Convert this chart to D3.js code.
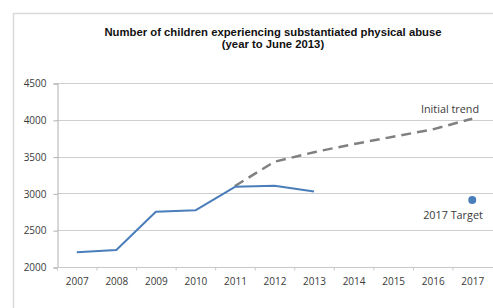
<!DOCTYPE html>
<html>
<head>
<meta charset="utf-8">
<script src="https://cdn.jsdelivr.net/npm/d3@7"></script>
<style>
    body { margin: 0; background: #fff; }
    svg { display: block; }
    .tick text { font-family: "Open Sans", sans-serif; font-size: 10px; fill: #3a3a3a; }
</style>
</head>
<body>
<div id="chart"></div>
<script>
const years = ["2007", "2008", "2009", "2010", "2011", "2012", "2013", "2014", "2015", "2016", "2017"];
const actualYears = ["2007", "2008", "2009", "2010", "2011", "2012", "2013"];
const actualValues = [2200, 2230, 2750, 2770, 3090, 3105, 3025];
const trendYears = ["2011", "2012", "2013", "2014", "2015", "2016", "2017"];
const trendValues = [3100, 3430, 3560, 3670, 3770, 3870, 4015];
const targetYear = "2017";
const targetValue = 2910;
const yTicks = [2000, 2500, 3000, 3500, 4000, 4500];

const width = 493, height = 308;
const margin = {top: 83, right: 1, bottom: 41, left: 57};

const svg = d3.select("#chart").append("svg")
    .attr("width", width)
    .attr("height", height);

// outer chart frame (cut off at right/bottom like the source)
svg.append("rect")
    .attr("x", 13.5).attr("y", 13.5)
    .attr("width", width).attr("height", height)
    .attr("fill", "none")
    .attr("stroke", "#d9d9d9")
    .attr("stroke-width", 1.5);

svg.append("text")
    .attr("x", 273).attr("y", 36)
    .attr("text-anchor", "middle")
    .attr("font-family", "Liberation Sans, Arial, sans-serif")
    .attr("font-weight", "bold")
    .attr("font-size", 11.3)
    .attr("fill", "#111")
    .selectAll("tspan")
    .data(["Number of children experiencing substantiated physical abuse", "(year to June 2013)"])
    .join("tspan")
    .attr("x", 273)
    .attr("dy", (d, i) => i ? 12 : 0)
    .text(d => d);

const x = d3.scaleBand()
    .domain(years)
    .range([margin.left, width - margin.right]);

const y = d3.scaleLinear()
    .domain([2000, 4500])
    .range([height - margin.bottom, margin.top]);

const cx = d => x(d) + x.bandwidth() / 2;

// gridlines
svg.append("g")
    .selectAll("line")
    .data(yTicks.slice(1))
    .join("line")
    .attr("x1", margin.left).attr("x2", width)
    .attr("y1", d => Math.round(y(d)) + 0.5)
    .attr("y2", d => Math.round(y(d)) + 0.5)
    .attr("stroke", "#cfcfcf");

const yAxis = svg.append("g")
    .attr("transform", `translate(${margin.left + 0.5},0.5)`)
    .call(d3.axisLeft(y).tickValues(yTicks).tickSize(4).tickPadding(7).tickFormat(d3.format("d")));
yAxis.selectAll("line, path").attr("stroke", "#b0b0b0");

const xAxis = svg.append("g")
    .attr("transform", `translate(0.5,${height - margin.bottom + 0.5})`)
    .call(d3.axisBottom(x).tickSize(0).tickPadding(10));
xAxis.select("path").attr("stroke", "#c8c8c8").attr("d", `M${margin.left},0H${width}`);

// band separators as ticks
xAxis.append("g")
    .selectAll("line")
    .data(years)
    .join("line")
    .attr("x1", d => x(d)).attr("x2", d => x(d))
    .attr("y1", 0).attr("y2", 3)
    .attr("stroke", "#c8c8c8");

const line = d3.line()
    .x(d => cx(d[0]))
    .y(d => y(d[1]));

svg.append("path")
    .datum(d3.zip(trendYears, trendValues))
    .attr("d", line)
    .attr("fill", "none")
    .attr("stroke", "#808080")
    .attr("stroke-width", 2.5)
    .attr("stroke-dasharray", "10,6");

svg.append("path")
    .datum(d3.zip(actualYears, actualValues))
    .attr("d", line)
    .attr("fill", "none")
    .attr("stroke", "#4a7ebb")
    .attr("stroke-width", 2)
    .attr("stroke-linejoin", "round");

svg.append("circle")
    .attr("cx", cx(targetYear))
    .attr("cy", y(targetValue))
    .attr("r", 4)
    .attr("fill", "#4a7ebb");

svg.append("text")
    .attr("x", 450)
    .attr("y", 113)
    .attr("text-anchor", "middle")
    .attr("font-family", "Open Sans, sans-serif")
    .attr("font-size", 10.8)
    .attr("fill", "#3a3a3a")
    .text("Initial trend");

svg.append("text")
    .attr("x", 453)
    .attr("y", 219)
    .attr("text-anchor", "middle")
    .attr("font-family", "Open Sans, sans-serif")
    .attr("font-size", 10.8)
    .attr("fill", "#3a3a3a")
    .text("2017 Target");
</script>
</body>
</html>
